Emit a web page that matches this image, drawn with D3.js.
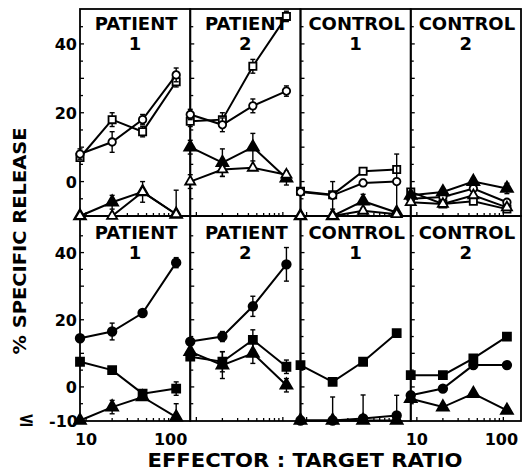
<!DOCTYPE html>
<html>
<head>
<meta charset="utf-8">
<script src="https://cdn.jsdelivr.net/npm/d3@7"></script>
<style>
  body { margin: 0; background: #fff; }
  text { font-family: "DejaVu Sans", sans-serif; font-weight: bold; fill: #000; }
</style>
</head>
<body>
<div id="chart"></div>
<script>
// effector : target ratios used in every panel
var ratios = [8.5, 20, 45, 110];
var panelTitles = ["PATIENT", "PATIENT", "CONTROL", "CONTROL"];
var panelNumbers = ["1", "2", "1", "2"];
var yTickLabels = [40, 20, 0];
var xTickLabels = [10, 100];

// top row, one list per panel
var openSquares = [[7, 18, 14.5, 29], [17.5, 18, 33.5, 48], [-2.8, -3.8, 3, 3.5], [-3, -6.5, -5.7, -8]];
var openSquaresErr = [[1, 2, 1.5, 1.5], [1.5, 2, 2, 1.5], [0, 0, 0, 0], [0, 0, 0, 0]];
var openCircles = [[8, 11.5, 18, 31], [19.5, 16.5, 22, 26.3], [-3, -4, -0.4, 0], [-5, -4.5, -2, -6]];
var openCirclesErr = [[1.5, 3, 1.5, 2], [1.5, 2, 2, 1.5], [0, 4, 1, 8], [0, 0, 0, 0]];
var topTriangles = [[-10, -6, -3, -9.5], [10, 5.5, 10, 1], [-10, -10, -5.7, -9], [-4, -3, 0, -2]];
var topTrianglesErr = [[0, 2, 3, 7], [2, 4, 4, 2], [0, 0, 2, 0], [0, 0, 1, 1.5]];
var openTriangles = [[-10, -10, -3, -9.5], [0, 3.5, 4, 2], [-10, -10, -8.5, -9.5], [-6, -6.5, -4, -7.5]];
var openTrianglesErr = [[0, 0, 0, 0], [2, 2, 0, 0], [0, 0, 0, 0], [0, 0, 0, 0]];

// bottom row, one list per panel
var filledCircles = [[14.5, 16.5, 22, 37], [13.5, 15, 24, 36.5], [-10, -10, -9.4, -8.5], [-2.5, -0.5, 6.5, 6.5]];
var filledCirclesErr = [[0, 2.5, 0, 1.5], [0, 1.5, 3, 5], [0, 0, 7, 6], [0, 0, 0, 0]];
var filledSquares = [[7.5, 5, -2, -0.5], [9, 7.5, 14, 6], [6.5, 1.5, 7.5, 16], [3.5, 3.5, 8.5, 15]];
var filledSquaresErr = [[0, 0, 0, 2], [0, 3, 3, 2], [0, 0, 0, 0], [0, 0, 0, 0]];
var filledTriangles = [[-10, -6, -3, -9], [10.5, 6.5, 10, 0.5], [-10, -10, -10, -10], [-3.5, -6, -2, -7]];
var filledTrianglesErr = [[0, 2, 0, 4], [0, 4, 3, 2], [0, 7, 0, 0], [0, 0, 0, 0]];

var width = 522, height = 474;
var panelW = 110.25;
var rows = [{top: 9, bottom: 216}, {top: 216, bottom: 421}];

var svg = d3.select("#chart").append("svg")
    .attr("width", width)
    .attr("height", height);

// panel left edges
var panelX = d3.scaleLinear().domain([0, 4]).range([80, 80 + 4 * panelW]);

var yTop = d3.scaleLinear().domain([-10, 50]).range([216, 9.5]);
var yBottom = d3.scaleLinear().domain([-10, 50]).range([420.5, 219]);

function xScale(p) {
    var x0 = panelX(p);
    return d3.scaleLog().domain([8.5, 160]).range([x0, x0 + panelW]);
}

// series definitions for each row
var topSeries = [
    {values: openSquares, err: openSquaresErr, shape: d3.symbolSquare, size: 52, fill: "#fff"},
    {values: openCircles, err: openCirclesErr, shape: d3.symbolCircle, size: 44, fill: "#fff"},
    {values: topTriangles, err: topTrianglesErr, shape: d3.symbolTriangle, size: 62, fill: "#000"},
    {values: openTriangles, err: openTrianglesErr, shape: d3.symbolTriangle, size: 44, fill: "#fff"}
];
var bottomSeries = [
    {values: filledCircles, err: filledCirclesErr, shape: d3.symbolCircle, size: 58, fill: "#000"},
    {values: filledSquares, err: filledSquaresErr, shape: d3.symbolSquare, size: 64, fill: "#000"},
    {values: filledTriangles, err: filledTrianglesErr, shape: d3.symbolTriangle, size: 62, fill: "#000"}
];

function drawFrame(p, row, y) {
    var x = xScale(p);
    var x0 = panelX(p), x1 = panelX(p + 1);
    var g = svg.append("g");

    g.append("rect")
        .attr("x", x0).attr("y", row.top)
        .attr("width", x1 - x0).attr("height", row.bottom - row.top)
        .attr("fill", "none").attr("stroke", "#000").attr("stroke-width", 1.8);

    // y ticks every 5, pointing into the panel
    d3.range(-5, 50, 5).forEach(function(v) {
        g.append("line")
            .attr("x1", x0).attr("x2", x0 + (v % 10 == 0 ? 4 : 3))
            .attr("y1", y(v)).attr("y2", y(v))
            .attr("stroke", "#000").attr("stroke-width", 1.3);
    });

    // log ticks on the bottom edge
    var logTicks = [10, 20, 30, 40, 50, 60, 70, 80, 90, 100];
    logTicks.forEach(function(v) {
        g.append("line")
            .attr("x1", x(v)).attr("x2", x(v))
            .attr("y1", row.bottom).attr("y2", row.bottom - (v == 10 || v == 100 ? 4 : 3))
            .attr("stroke", "#000").attr("stroke-width", 1.3);
    });

    var cx = (x0 + x1) / 2;
    g.append("text")
        .attr("x", cx + 1).attr("y", row.top + (row.top < 100 ? 21 : 23))
        .attr("text-anchor", "middle")
        .style("font-size", "18px")
        .text(panelTitles[p]);
    g.append("text")
        .attr("x", cx).attr("y", row.top + (row.top < 100 ? 41 : 43))
        .attr("text-anchor", "middle")
        .style("font-size", "18px")
        .text(panelNumbers[p]);
}

function drawSeries(p, series, y) {
    var x = xScale(p);
    var g = svg.append("g");

    series.forEach(function(s) {
        var vals = s.values[p];
        var errs = s.err[p];
        var pts = ratios.map(function(r, i) { return {r: r, v: vals[i], e: errs[i]}; });

        g.append("path")
            .datum(pts)
            .attr("fill", "none")
            .attr("stroke", "#000")
            .attr("stroke-width", 2)
            .attr("d", d3.line().x(function(d) { return x(d.r); }).y(function(d) { return y(d.v); }));

        // error bars with caps
        pts.forEach(function(d) {
            if (d.e <= 0) { return; }
            var px = x(d.r);
            g.append("line")
                .attr("x1", px).attr("x2", px)
                .attr("y1", y(Math.max(d.v - d.e, -10))).attr("y2", y(d.v + d.e))
                .attr("stroke", "#000").attr("stroke-width", 1.4);
            [d.v + d.e, d.v - d.e].forEach(function(c) {
                if (c < -10) { return; }
                g.append("line")
                    .attr("x1", px - 2.5).attr("x2", px + 2.5)
                    .attr("y1", y(c)).attr("y2", y(c))
                    .attr("stroke", "#000").attr("stroke-width", 1.4);
            });
        });

        g.selectAll(null)
            .data(pts)
            .enter().append("path")
            .attr("transform", function(d) { return "translate(" + x(d.r) + "," + y(d.v) + ")"; })
            .attr("d", d3.symbol().type(s.shape).size(s.size))
            .attr("fill", s.fill)
            .attr("stroke", "#000")
            .attr("stroke-width", 1.8);
    });
}

for (var p = 0; p < 4; p++) {
    drawFrame(p, rows[0], yTop);
    drawFrame(p, rows[1], yBottom);
}
for (var p = 0; p < 4; p++) {
    drawSeries(p, topSeries, yTop);
    drawSeries(p, bottomSeries, yBottom);
}

// y tick labels
[yTop, yBottom].forEach(function(y) {
    yTickLabels.forEach(function(v) {
        svg.append("text")
            .attr("x", 77).attr("y", y(v) + 6)
            .attr("text-anchor", "end")
            .style("font-size", "16px")
            .text(v);
    });
});
svg.append("text")
    .attr("x", 78).attr("y", yBottom(-10) + 6)
    .attr("text-anchor", "end")
    .style("font-size", "16px")
    .text("-10");
svg.append("text")
    .attr("x", 18).attr("y", 426)
    .style("font-size", "20px")
    .text("≤");

// x tick labels under first and last panel
[0, 3].forEach(function(p) {
    var x = xScale(p);
    xTickLabels.forEach(function(v) {
        svg.append("text")
            .attr("x", x(v) + (v == 10 ? 0 : -2)).attr("y", 445)
            .attr("text-anchor", "middle")
            .style("font-size", "16px")
            .text(v);
    });
});

// axis titles
svg.append("text")
    .attr("transform", "translate(26,241) rotate(-90)")
    .attr("text-anchor", "middle")
    .attr("textLength", 227)
    .attr("lengthAdjust", "spacingAndGlyphs")
    .style("font-size", "18px")
    .text("% SPECIFIC RELEASE");

svg.append("text")
    .attr("x", 305).attr("y", 467)
    .attr("text-anchor", "middle")
    .attr("textLength", 315)
    .attr("lengthAdjust", "spacingAndGlyphs")
    .style("font-size", "19px")
    .text("EFFECTOR : TARGET RATIO");
</script>
</body>
</html>
